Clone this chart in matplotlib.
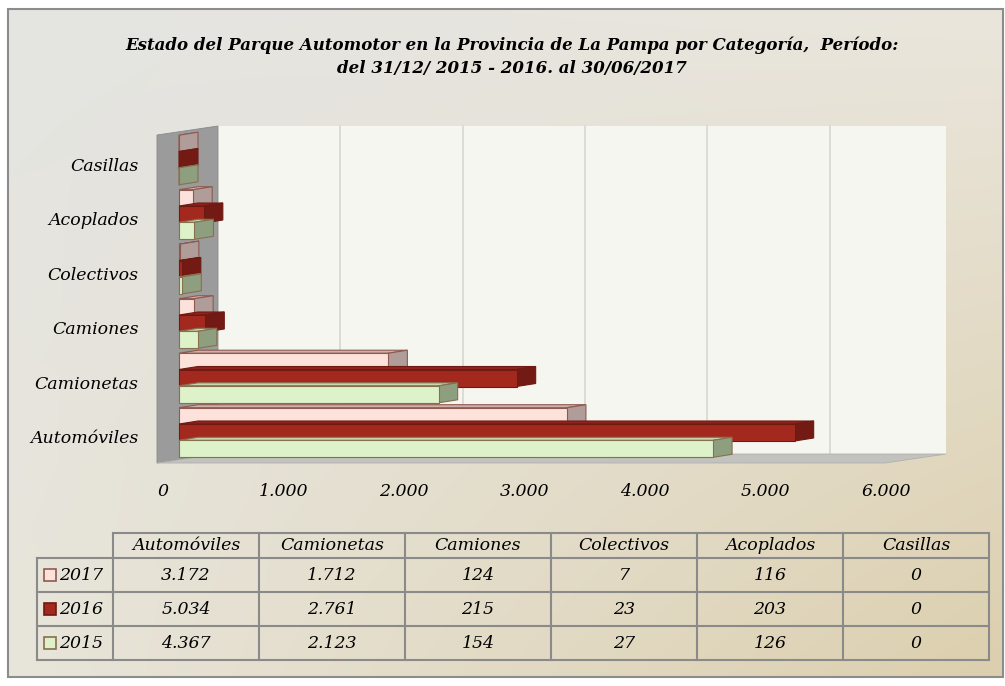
import matplotlib
matplotlib.use("Agg")
import matplotlib.pyplot as plt
import numpy as np
from matplotlib.patches import Polygon, Rectangle

# ---- data -------------------------------------------------------------------
categories = ["Automóviles", "Camionetas", "Camiones", "Colectivos", "Acoplados", "Casillas"]
years = ["2017", "2016", "2015"]
v2017 = [3172, 1712, 124, 7, 116, 0]
v2016 = [5034, 2761, 215, 23, 203, 0]
v2015 = [4367, 2123, 154, 27, 126, 0]
xticks = [0, 1000, 2000, 3000, 4000, 5000, 6000]

title = ("Estado del Parque Automotor en la Provincia de La Pampa por Categoría,  Período:\n"
         "del 31/12/ 2015 - 2016. al 30/06/2017")

series = {"2017": v2017, "2016": v2016, "2015": v2015}
# front, top, side, edge
colors = {
    "2017": ("#fde2dc", "#cfb0aa", "#b09c98", "#8e5a50"),
    "2016": ("#a3291f", "#8f241b", "#721a13", "#6e1a12"),
    "2015": ("#def2c9", "#c5d6b0", "#8e9f80", "#86704e"),
}

FONT = "DejaVu Serif"
W, H = 1005, 686


def fmt(v):
    return f"{v:,}".replace(",", ".")


fig = plt.figure(figsize=(W / 100, H / 100), dpi=100)

# ---- background and frame (pixel coords) -----------------------------------
bg = fig.add_axes([0, 0, 1, 1], zorder=-10)
bg.set_xlim(0, W)
bg.set_ylim(H, 0)
bg.axis("off")
tl = np.array([0xe4, 0xe4, 0xe2]) / 255
tr = np.array([0xea, 0xe6, 0xdc]) / 255
bl = np.array([0xe8, 0xe5, 0xda]) / 255
br = np.array([0xdc, 0xcf, 0xae]) / 255
gx = np.linspace(0, 1, 200)[None, :, None]
gy = np.linspace(0, 1, 140)[:, None, None]
grad = (1 - gy) * ((1 - gx) * tl + gx * tr) + gy * ((1 - gx) * bl + gx * br)
bg.imshow(grad, extent=(8, 1003, 677, 9), aspect="auto", interpolation="bilinear")
bg.add_patch(Rectangle((8, 9), 995, 668, fill=False, edgecolor="#8c8c8c", lw=1.5))

bg.text(512, 57, title, ha="center", va="center", fontsize=12, fontweight="bold",
        fontstyle="italic", family=FONT, linespacing=1.45)

# ---- chart axes --------------------------------------------------------------
K = 0.1223      # px per unit on the front plane
X0 = 179        # px of value 0
YC = 432.5      # px of first category
S = 54.5        # px between categories
left, right, top, bottom = 140, 960, 110, 475
ax = fig.add_axes([left / W, 1 - bottom / H, (right - left) / W, (bottom - top) / H])
ax.set_xlim((left - X0) / K, (right - X0) / K)
ax.set_ylim((YC - bottom) / S, (YC - top) / S)
ax.patch.set_alpha(0)
for sp in ax.spines.values():
    sp.set_visible(False)

# walls
wall_dx, wall_dy = 61 / K, 9 / S
xl = -22 / K
xb = xl + wall_dx
xr = (946 - X0) / K
yf = (YC - 463) / S
yt = (YC - 135) / S
ax.add_patch(Rectangle((xb, yf + wall_dy), xr - xb, yt - yf, facecolor="#f6f6f1",
                       edgecolor="none", zorder=1))
ax.add_patch(Polygon([(xl, yf), (xl, yt), (xb, yt + wall_dy), (xb, yf + wall_dy)],
                     closed=True, facecolor="#9b9b9b", edgecolor="#8a8a8a", lw=0.6, zorder=2))
ax.add_patch(Polygon([(xl, yf), (xr - wall_dx, yf), (xr, yf + wall_dy), (xb, yf + wall_dy)],
                     closed=True, facecolor="#c2c2be", edgecolor="#b0b0ac", lw=0.6, zorder=2))
for v in xticks[1:-1]:
    ax.plot([xb + v, xb + v], [yf + wall_dy, yt + wall_dy], color="#dcd9d3", lw=1.3, zorder=1.5)

# bars
bar_dx, bar_dy = 19 / K, 3 / S
h = 17 / S
offsets = {"2017": 16.3 / S, "2016": 0.0, "2015": -16.3 / S}
z = 3
for i in range(len(categories) - 1, -1, -1):
    for yr in years:
        v = series[yr][i]
        front, topc, side, edge = colors[yr]
        y0 = i + offsets[yr] - h / 2
        y1 = y0 + h
        ax.add_patch(Polygon([(0, y1), (v, y1), (v + bar_dx, y1 + bar_dy), (bar_dx, y1 + bar_dy)],
                             closed=True, facecolor=topc, edgecolor=edge, lw=0.8, zorder=z))
        ax.add_patch(Polygon([(v, y0), (v + bar_dx, y0 + bar_dy), (v + bar_dx, y1 + bar_dy), (v, y1)],
                             closed=True, facecolor=side, edgecolor=edge, lw=0.8, zorder=z))
        ax.add_patch(Rectangle((0, y0), v, h, facecolor=front, edgecolor=edge, lw=0.8, zorder=z + 0.5))
        z += 1

ax.set_yticks([i - 0.08 for i in range(len(categories))])
ax.set_yticklabels(categories, fontsize=12.5, fontstyle="italic", family=FONT)
ax.set_xticks([])
ax.tick_params(axis="y", length=0, pad=1)

xt = ax.get_xaxis_transform()
for v in xticks:
    ax.text((163 + 0.1205 * v - X0) / K, (bottom - 492) / (bottom - top), fmt(v), transform=xt,
            ha="center", va="center", fontsize=12.5, fontstyle="italic", family=FONT,
            clip_on=False)

# ---- data table (pixel coords) ---------------------------------------------
col0, colw, lab0 = 113, 146, 37
rows_y = [533, 558, 592, 626, 660]
ncol = len(categories)
col_right = col0 + colw * ncol
lc = "#8a8a8a"
bg.plot([col0, col_right], [rows_y[0]] * 2, color=lc, lw=1.5)
for yy in rows_y[1:]:
    bg.plot([lab0, col_right], [yy, yy], color=lc, lw=1.5)
bg.plot([lab0, lab0], [rows_y[1], rows_y[-1]], color=lc, lw=1.5)
for k in range(ncol + 1):
    xx = col0 + colw * k
    bg.plot([xx, xx], [rows_y[0], rows_y[-1]], color=lc, lw=1.5)

tkw = dict(fontsize=12.5, fontstyle="italic", family=FONT, va="center")
for k, cat in enumerate(categories):
    bg.text(col0 + colw * (k + 0.5), (rows_y[0] + rows_y[1]) / 2, cat, ha="center", **tkw)
for r, yr in enumerate(years):
    yc = (rows_y[r + 1] + rows_y[r + 2]) / 2
    front, _, _, edge = colors[yr]
    bg.add_patch(Rectangle((44, yc - 6), 12, 12, facecolor=front, edgecolor=edge, lw=1.2))
    bg.text(59, yc, yr, ha="left", **tkw)
    for k in range(ncol):
        bg.text(col0 + colw * (k + 0.5), yc, fmt(series[yr][k]), ha="center", **tkw)

fig.savefig("out.png", dpi=100)
